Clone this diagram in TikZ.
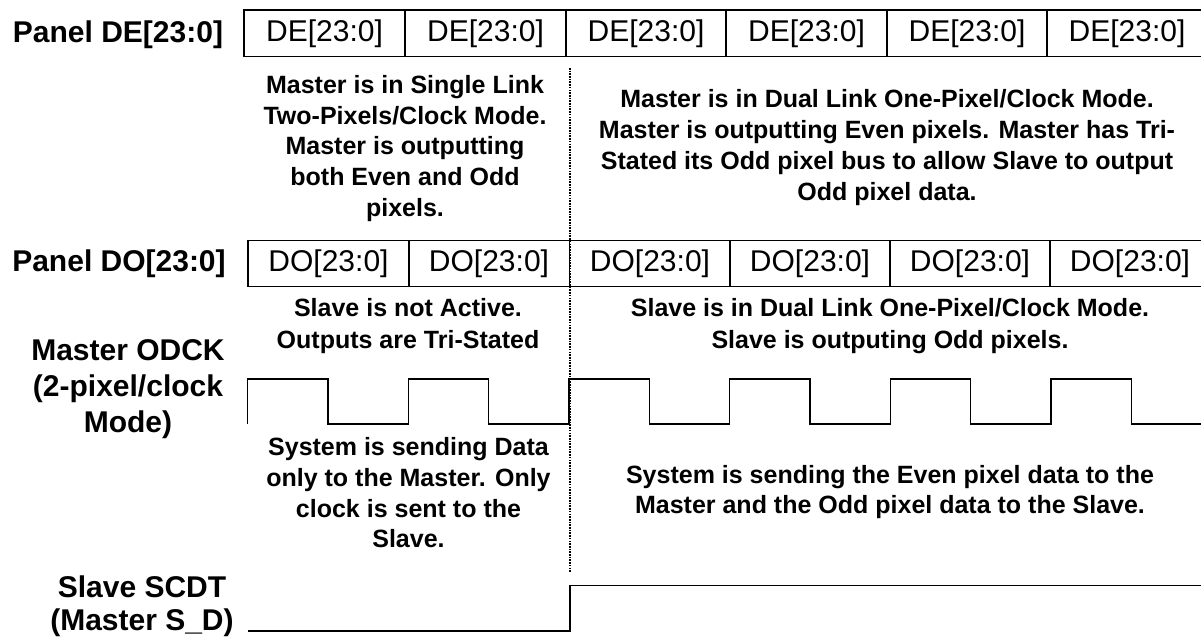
\documentclass[tikz,border=0pt]{standalone}
\usepackage{fontspec}
\setmainfont{Liberation Sans}
\begin{document}
\begin{tikzpicture}[x=1pt,y=-1pt,
 cell/.style={font=\fontsize{30}{36}\selectfont, inner sep=0pt},
 lbl/.style={font=\bfseries\fontsize{30}{36}\selectfont, align=center, inner sep=0pt},
 note/.style={font=\bfseries\fontsize{25}{30.7}\selectfont, align=center, inner sep=0pt},
 boxline/.style={line width=1.4pt},
 wave/.style={line width=1.3pt},
 sep/.style={line width=1.9pt, dash pattern=on 1.6pt off 1.1pt}]
\useasboundingbox (0,0) rectangle (1201,639);

% DE row
\draw[boxline] (1201,10) -- (244,10) -- (244,56.7) -- (1201,56.7);
\foreach \x in {405,566,726,887,1047} \draw[boxline] (\x,10) -- (\x,56.7);
\foreach \x/\n in {324.5/1,485.5/2,646/3,806.5/4,967/5,1127/6}
  \node[cell] (de\n) at (\x,33.4) {DE[23:0]};

% DO row
\draw[boxline] (1201,240.7) -- (248,240.7) -- (248,286.7) -- (1201,286.7);
\foreach \x in {409,569.5,730,890,1050} \draw[boxline] (\x,240.7) -- (\x,286.7);
\foreach \x/\n in {328.5/1,489/2,650/3,810/4,970/5,1130/6}
  \node[cell] (do\n) at (\x,263.7) {DO[23:0]};

% left labels
\node[lbl] (lde) at (118,35) {Panel DE[23:0]};
\node[lbl] (ldo) at (119,263.5) {Panel DO[23:0]};
\node[lbl] (lodck) at (128,389) {Master ODCK\\(2-pixel/clock\\Mode)};
\node[lbl, font=\bfseries\fontsize{30}{33}\selectfont] (lscdt) at (142,606.5) {Slave SCDT\\(Master S\_D)};

% notes
\node[note] (n1) at (405,148.5) {Master is in Single Link\\Two-Pixels/Clock Mode.\\Master is outputting\\both Even and Odd\\pixels.};
\node[note] (n2) at (887,147.5) {Master is in Dual Link One-Pixel/Clock Mode.\\Master is outputting Even pixels. Master has Tri-\\Stated its Odd pixel bus to allow Slave to output\\Odd pixel data.};
\node[note, font=\bfseries\fontsize{25}{31.7}\selectfont] (n3) at (408,326) {Slave is not Active.\\Outputs are Tri-Stated};
\node[note, font=\bfseries\fontsize{25}{31.7}\selectfont] (n4) at (890,326) {Slave is in Dual Link One-Pixel/Clock Mode.\\Slave is outputing Odd pixels.};
\node[note] (n5) at (408.5,493) {System is sending Data\\only to the Master. Only\\clock is sent to the\\Slave.};
\node[note] (n6) at (890,492) {System is sending the Even pixel data to the\\Master and the Odd pixel data to the Slave.};

% clock waveform
\draw[wave] (247.6,424) |- (328,379) |- (408.3,424) |- (488.6,379) |- (569,424)
  |- (649.3,379) |- (729.6,424) |- (810,379) |- (890.3,424) |- (970.6,379)
  |- (1051,424) |- (1131.3,379) |- (1201,424);

% SCDT waveform
\draw[line width=1.8pt] (248,631) -- (570,631) -- (570,585.5) -- (1201,585.5);

% separator
\coordinate (s1) at (569.7,68);
\coordinate (s2) at (569.7,572);
\draw[sep] (s1) -- (s2);
\end{tikzpicture}
\end{document}
